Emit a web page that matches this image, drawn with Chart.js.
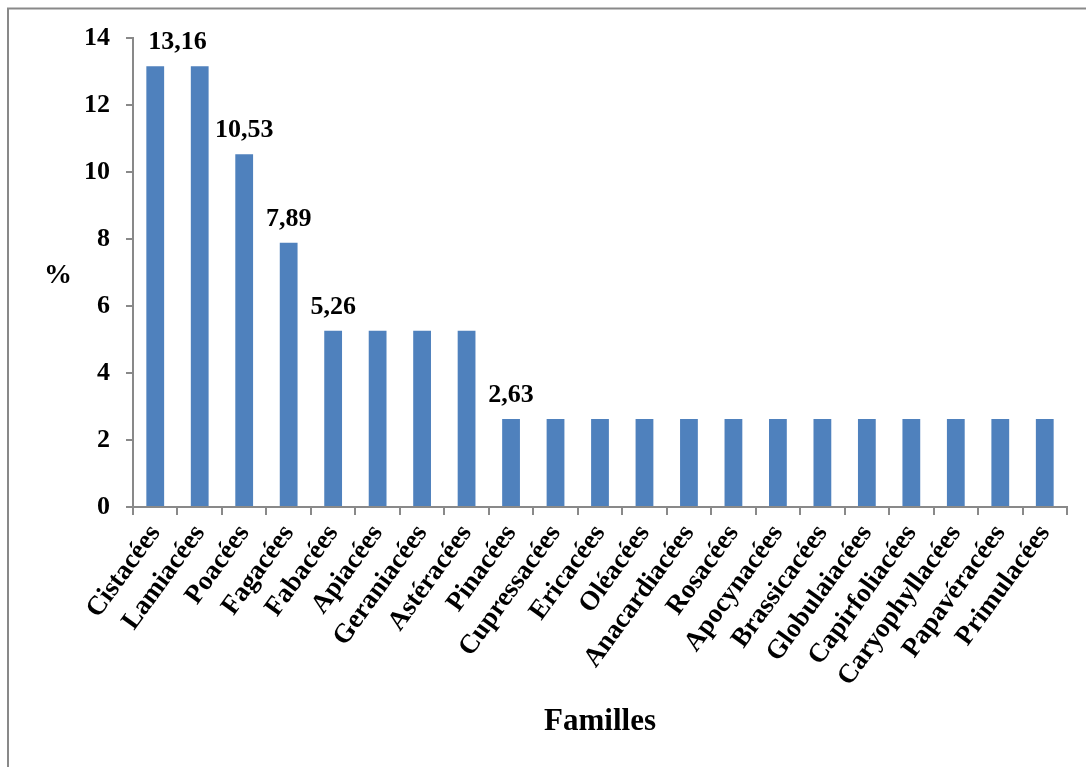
<!DOCTYPE html>
<html>
<head>
<meta charset="utf-8">
<script src="https://cdn.jsdelivr.net/npm/chart.js@4/dist/chart.umd.min.js"></script>
<style>
  html, body { margin: 0; padding: 0; background: #fff; }
  #wrap { width: 1086px; height: 767px; position: relative; }
</style>
</head>
<body>
<div id="wrap"><canvas id="graficoFamilles"></canvas></div>
<script>
// familles botaniques
const familles = ['Cistacées', 'Lamiacées', 'Poacées', 'Fagacées', 'Fabacées', 'Apiacées',
    'Geraniacées', 'Astéracées', 'Pinacées', 'Cupressacées', 'Ericacées', 'Oléacées',
    'Anacardiacées', 'Rosacées', 'Apocynacées', 'Brassicacées', 'Globulaiacées',
    'Capirfoliacées', 'Caryophyllacées', 'Papavéracées', 'Primulacées'];

const pourcentages = [13.16, 13.16, 10.53, 7.89, 5.26, 5.26, 5.26, 5.26, 2.63, 2.63, 2.63,
    2.63, 2.63, 2.63, 2.63, 2.63, 2.63, 2.63, 2.63, 2.63, 2.63];

const yTicks = [0, 2, 4, 6, 8, 10, 12, 14];

// étiquettes de valeur : texte + barres au-dessus desquelles il est centré
const etiquettes = [
    { texte: '13,16', barres: [0, 1] },
    { texte: '10,53', barres: [2] },
    { texte: '7,89', barres: [3] },
    { texte: '5,26', barres: [4] },
    { texte: '2,63', barres: [8] }
];

const police = 'Liberation Serif, Times New Roman, serif';
const gris = '#898989';

const decorPlugin = {
    id: 'decor',
    beforeDraw(chart) {
        const c = chart.ctx;
        c.save();
        c.strokeStyle = gris;
        c.lineWidth = 2;
        c.beginPath();
        c.moveTo(8, chart.height);
        c.lineTo(8, 8.5);
        c.lineTo(chart.width, 8.5);
        c.stroke();
        c.restore();
    },
    afterDatasetsDraw(chart) {
        const c = chart.ctx;
        const meta = chart.getDatasetMeta(0);
        c.save();
        c.fillStyle = '#000';
        c.textAlign = 'center';
        c.textBaseline = 'alphabetic';
        c.font = 'bold 26px ' + police;
        etiquettes.forEach(e => {
            const xs = e.barres.map(i => meta.data[i].x);
            const x = xs.reduce((a, b) => a + b, 0) / xs.length;
            const y = Math.min(...e.barres.map(i => meta.data[i].y));
            c.fillText(e.texte, x, y - 17);
        });
        // titres des axes
        c.font = 'bold 28px ' + police;
        c.fillText('%', 58, 283);
        c.font = 'bold 31px ' + police;
        c.fillText('Familles', (chart.chartArea.left + chart.chartArea.right) / 2, 730);
        c.restore();
    }
};

const ctx = document.getElementById('graficoFamilles').getContext('2d');
new Chart(ctx, {
    type: 'bar',
    data: {
        labels: familles,
        datasets: [{
            data: pourcentages,
            backgroundColor: '#4F81BD',
            borderWidth: 0,
            barPercentage: 0.4,
            categoryPercentage: 1.0
        }]
    },
    options: {
        responsive: true,
        maintainAspectRatio: false,
        animation: false,
        layout: { padding: { top: 38, right: 19, left: 0, bottom: 0 } },
        plugins: {
            legend: { display: false },
            tooltip: { enabled: false }
        },
        scales: {
            x: {
                afterFit: scale => { scale.height = 260; },
                grid: { drawOnChartArea: false, color: gris, lineWidth: 2, tickLength: 8, offset: true },
                border: { color: gris, width: 2 },
                ticks: {
                    autoSkip: false,
                    minRotation: 54,
                    maxRotation: 54,
                    padding: 4,
                    color: '#000',
                    font: { family: police, size: 27, weight: 'bold' }
                }
            },
            y: {
                min: 0,
                max: 14,
                afterFit: scale => { scale.width = 133; },
                afterBuildTicks: scale => { scale.ticks = yTicks.map(v => ({ value: v })); },
                grid: { drawOnChartArea: false, color: gris, lineWidth: 2, tickLength: 7 },
                border: { color: gris, width: 2 },
                ticks: {
                    padding: 16,
                    color: '#000',
                    font: { family: police, size: 26, weight: 'bold' }
                }
            }
        }
    },
    plugins: [decorPlugin]
});
</script>
</body>
</html>
